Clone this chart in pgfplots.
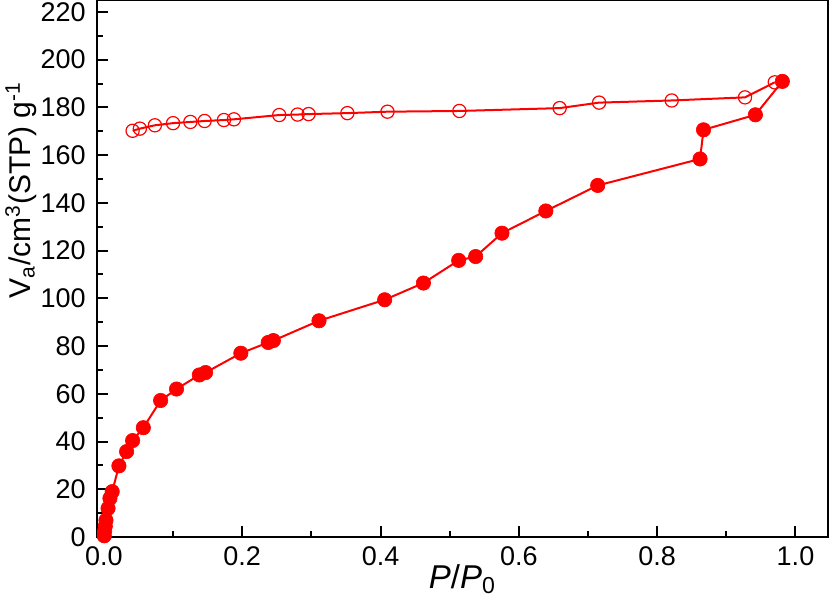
\documentclass[border=0pt]{standalone}
\usepackage{fontspec}
\setmainfont{Liberation Sans}
\usepackage{pgfplots}
\pgfplotsset{compat=1.18}
\definecolor{pred}{RGB}{255,0,0}
\begin{document}
\begin{tikzpicture}
\begin{axis}[
  scale only axis,
  width=365.5pt, height=268.5pt,
  xmin=-0.01, xmax=1.047,
  ymin=0, ymax=225,
  axis line style={line width=1.1pt},
  xtick={0,0.2,0.4,0.6,0.8,1.0},
  minor xtick={0.1,0.3,0.5,0.7,0.9},
  ytick={0,20,...,220},
  minor ytick={10,30,...,210},
  tick align=inside,
  xtick pos=bottom, ytick pos=left,
  major tick length=5.5pt, minor tick length=3pt,
  every tick/.style={black, line width=1pt},
  /pgf/number format/assume math mode=true,
  xticklabel style={/pgf/number format/.cd, fixed, fixed zerofill, precision=1, /tikz/.cd, inner sep=0pt, yshift=-4.5pt, font=\fontsize{13.5pt}{15pt}\selectfont},
  yticklabel style={inner sep=0pt, xshift=-5.5pt, font=\fontsize{13.5pt}{15pt}\selectfont},
  xlabel={\textit{P}/\textit{P}\textsubscript{0}},
  ylabel={V\textsubscript{a}/cm\textsuperscript{3}(STP) g\textsuperscript{-1}},
  every axis x label/.style={at={(axis description cs:0.5,-0.05)}, anchor=north, inner sep=0pt, font=\fontsize{16.5pt}{18pt}\selectfont},
  every axis y label/.style={at={(axis description cs:-0.104,0.646)}, rotate=90, anchor=center, inner sep=0pt, font=\fontsize{15pt}{17pt}\selectfont},
]
\addplot[pred, line width=1pt, mark=*, mark size=3.6pt, mark options={fill=pred, draw=pred, line width=0.3pt}] coordinates {
(0.0005,0.5) (0.001,2.5) (0.002,4.5) (0.003,7) (0.006,12) (0.0087,16.2) (0.012,19)
(0.0217,29.8) (0.0328,35.8) (0.0415,40.4) (0.057,45.8) (0.082,57.2) (0.105,62)
(0.138,67.9) (0.147,68.9) (0.198,77) (0.2376,81.5) (0.245,82.3) (0.311,90.6)
(0.406,99.4) (0.462,106.4) (0.513,115.9) (0.5375,117.5) (0.5756,127.3)
(0.639,136.6) (0.714,147.3) (0.862,158.4) (0.867,170.6) (0.942,176.9) (0.981,190.9)
};
\addplot[pred, line width=1pt, mark=o, mark size=3.3pt, mark options={fill=white, draw=pred, line width=0.6pt}] coordinates {
(0.970,190.5) (0.927,184.2) (0.821,182.9) (0.716,182) (0.659,179.7) (0.514,178.5)
(0.410,178.2) (0.352,177.6) (0.296,177.2) (0.280,177.0) (0.2535,176.8)
(0.188,175) (0.1735,174.7) (0.1456,174.3) (0.125,173.9) (0.100,173.4)
(0.0737,172.5) (0.052,171.1) (0.0415,170.2)
};
\end{axis}
\pgfresetboundingbox
\path ([shift={(-48.5pt,-36.5pt)}]current axis.south west) rectangle ([shift={(1pt,0pt)}]current axis.north east);
\end{tikzpicture}
\end{document}
